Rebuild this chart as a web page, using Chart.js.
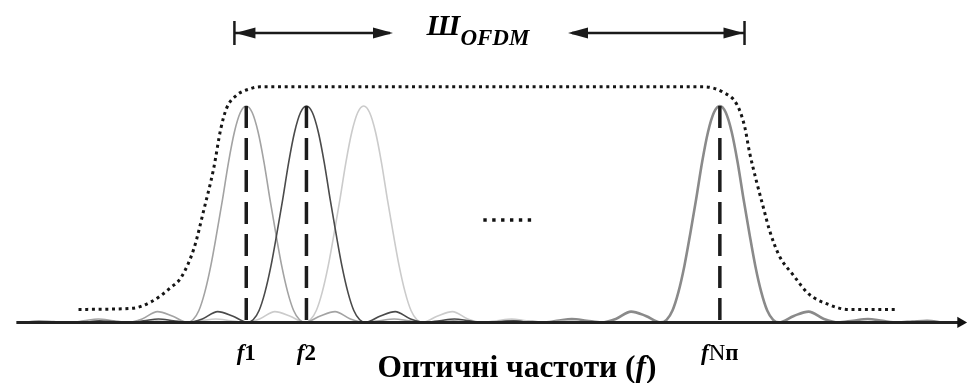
<!DOCTYPE html>
<html>
<head>
<meta charset="utf-8">
<script src="https://cdn.jsdelivr.net/npm/chart.js@4.4.1/dist/chart.umd.min.js"></script>
<style>
    html, body { margin: 0; padding: 0; background: #fff; }
    canvas { display: block; }
</style>
</head>
<body>
<canvas id="ofdmChart" width="974" height="383"></canvas>
<script>
// subcarrier centre frequencies (arbitrary frequency units) and how each one is drawn
const carrierFreqs = [243, 304, 362, 723];
const carrierColors = ['#a3a3a3', '#4a4a4a', '#cbcbcb', '#8a8a8a'];
const carrierWidths = [1.6, 1.6, 1.6, 2.6];

// spectrum of one subcarrier: offset from centre -> relative power
const lobeOffsets = [-225, -210, -195, -180, -165, -150, -135, -120, -105, -90, -75,
    -60, -54, -48, -42, -36, -30, -24, -18, -12, -6, 0,
    6, 12, 18, 24, 30, 36, 42, 48, 54, 60,
    75, 90, 105, 120, 135, 150, 165, 180, 195, 210, 225];
const lobeLevels = [0, 0.008, 0.004, 0, 0.007, 0.016, 0.008, 0, 0.017, 0.05, 0.03,
    0, 0.012, 0.055, 0.14, 0.26, 0.41, 0.57, 0.74, 0.88, 0.97, 1,
    0.97, 0.88, 0.74, 0.57, 0.41, 0.26, 0.14, 0.055, 0.012, 0,
    0.03, 0.05, 0.017, 0, 0.008, 0.016, 0.007, 0, 0.004, 0.008, 0];

// dotted OFDM envelope
const envelopeFreqs = [73, 127, 147, 167, 177, 190, 200, 210, 217, 223, 233, 247, 257,
    707, 727, 740, 748, 753, 760, 767, 773, 783, 797, 813, 833, 853, 903];
const envelopeLevels = [0.06, 0.065, 0.096, 0.163, 0.208, 0.342, 0.52, 0.712, 0.891, 0.989, 1.049, 1.08, 1.089,
    1.089, 1.062, 1.009, 0.908, 0.788, 0.654, 0.533, 0.431, 0.31, 0.221, 0.132, 0.083, 0.06, 0.06];

// carriers with a dashed marker and a label under the axis
const markedFreqs = [243, 304, 723];
const tickLabels = ['f1', 'f2', 'fNп'];

// occupied band (Ш OFDM) and the "......" between carriers
const bandEdges = [231, 748];
const moreCarriersX = [485, 494, 503, 512, 521, 530];
const moreCarriersLevel = 0.473;

const axisTitle = ['Оптичні частоти (', 'f', ')'];

const SERIF = '"Liberation Serif", "Times New Roman", serif';

let datasets = [];

carrierFreqs.forEach((fc, i) => {
    datasets.push({
        data: lobeOffsets.map((d, k) => ({x: fc + d, y: lobeLevels[k]})),
        borderColor: carrierColors[i],
        borderWidth: carrierWidths[i],
        pointRadius: 0,
        cubicInterpolationMode: 'monotone',
        order: i == 1 ? 3 : 4 + i
    });
});

datasets.push({
    data: envelopeFreqs.map((f, k) => ({x: f, y: envelopeLevels[k]})),
    borderColor: '#151515',
    borderWidth: 3,
    borderDash: [3, 3.7],
    pointRadius: 0,
    cubicInterpolationMode: 'monotone',
    order: 2
});

markedFreqs.forEach(f => {
    datasets.push({
        data: [{x: f, y: 1}, {x: f, y: 0}],
        borderColor: '#1c1c1c',
        borderWidth: 3.5,
        borderDash: [22, 10],
        pointRadius: 0,
        order: 1
    });
});

datasets.push({
    data: moreCarriersX.map(x => ({x: x, y: moreCarriersLevel})),
    showLine: false,
    pointStyle: 'rect',
    pointRadius: 2.4,
    pointBorderWidth: 0,
    pointBackgroundColor: '#111',
    order: 1
});

// frequency axis with an arrow at its end
datasets.push({
    data: [{x: 10, y: 0}, {x: 967, y: 0}],
    borderColor: '#222',
    borderWidth: 3,
    pointStyle: 'triangle',
    rotation: 90,
    pointRadius: [0, 6.5],
    pointBorderWidth: 0,
    pointBackgroundColor: '#111',
    order: 0
});

function labelFont(ch, size) {
    if (ch == 'f') return 'italic bold ' + size + 'px ' + SERIF;
    if (ch == 'N') return size + 'px ' + SERIF;
    return 'bold ' + size + 'px ' + SERIF;
}

function drawParts(ctx, parts, cx, y) {
    let total = 0;
    parts.forEach(p => { ctx.font = p.font; total += ctx.measureText(p.text).width; });
    let x = cx - total / 2;
    parts.forEach(p => {
        ctx.font = p.font;
        ctx.fillText(p.text, x, y + (p.dy || 0));
        x += ctx.measureText(p.text).width;
    });
}

function arrowHead(ctx, tipX, y, dir) {
    ctx.beginPath();
    ctx.moveTo(tipX, y);
    ctx.lineTo(tipX - dir * 20, y - 5.5);
    ctx.lineTo(tipX - dir * 20, y + 5.5);
    ctx.closePath();
    ctx.fill();
}

const annotations = {
    id: 'annotations',
    afterDraw(chart) {
        const ctx = chart.ctx;
        const xs = chart.scales.x;
        ctx.save();
        ctx.fillStyle = '#000';
        ctx.strokeStyle = '#1a1a1a';
        ctx.textBaseline = 'alphabetic';

        // band width arrows
        const left = xs.getPixelForValue(bandEdges[0]);
        const right = xs.getPixelForValue(bandEdges[1]);
        const ay = 33;
        ctx.lineWidth = 2.5;
        [left, right].forEach(x => {
            ctx.beginPath();
            ctx.moveTo(x, 21);
            ctx.lineTo(x, 45);
            ctx.stroke();
        });
        ctx.beginPath();
        ctx.moveTo(left, ay); ctx.lineTo(390, ay);
        ctx.moveTo(572, ay); ctx.lineTo(right, ay);
        ctx.stroke();
        ctx.fillStyle = '#1a1a1a';
        arrowHead(ctx, left + 1, ay, -1);
        arrowHead(ctx, 393, ay, 1);
        arrowHead(ctx, 568, ay, -1);
        arrowHead(ctx, right - 1, ay, 1);

        // Ш OFDM
        ctx.fillStyle = '#000';
        ctx.font = 'italic bold 30px ' + SERIF;
        const wSh = ctx.measureText('Ш').width;
        ctx.font = 'italic bold 23px ' + SERIF;
        const wOf = ctx.measureText('OFDM').width;
        let tx = 478 - (wSh + wOf) / 2;
        ctx.font = 'italic bold 30px ' + SERIF;
        ctx.fillText('Ш', tx, 35);
        ctx.font = 'italic bold 23px ' + SERIF;
        ctx.fillText('OFDM', tx + wSh, 45);

        // carrier labels
        markedFreqs.forEach((f, i) => {
            const parts = tickLabels[i].split('').map(ch => ({text: ch, font: labelFont(ch, 23)}));
            drawParts(ctx, parts, xs.getPixelForValue(f), 360);
        });

        // axis title, sized to the width it takes in the picture
        let size = 30;
        const mk = s => [
            {text: axisTitle[0], font: 'bold ' + s + 'px ' + SERIF},
            {text: axisTitle[1], font: 'italic bold ' + s + 'px ' + SERIF},
            {text: axisTitle[2], font: 'bold ' + s + 'px ' + SERIF}
        ];
        let w = 0;
        mk(size).forEach(p => { ctx.font = p.font; w += ctx.measureText(p.text).width; });
        size = size * 279 / w;
        drawParts(ctx, mk(size), 517, 377);
        ctx.restore();
    }
};

new Chart(document.getElementById('ofdmChart'), {
    type: 'line',
    data: {datasets: datasets},
    options: {
        responsive: false,
        animation: false,
        devicePixelRatio: 1,
        layout: {padding: 0},
        plugins: {legend: {display: false}, tooltip: {enabled: false}},
        scales: {
            x: {type: 'linear', min: 0, max: 974, display: false},
            y: {min: -0.25, max: 1.46, display: false}
        }
    },
    plugins: [annotations]
});
</script>
</body>
</html>
